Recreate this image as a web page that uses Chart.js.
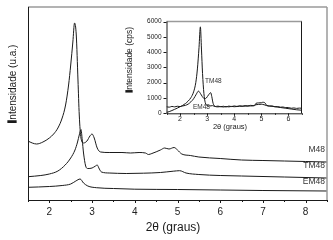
<!DOCTYPE html>
<html>
<head>
<meta charset="utf-8">
<script src="https://cdn.jsdelivr.net/npm/chart.js@4/dist/chart.umd.min.js"></script>
<style>
  html, body { margin: 0; padding: 0; background: #fff; }
  #wrap { position: relative; width: 333px; height: 240px; }
  #mainChart { position: absolute; left: 0; top: 0; }
  #insetChart { position: absolute; left: 120px; top: 12px; }
</style>
</head>
<body>
<div id="wrap">
  <canvas id="mainChart" width="333" height="240"></canvas>
  <canvas id="insetChart" width="190" height="124"></canvas>
</div>
<script>
"use strict";

// main plot: [2θ, intensity (a.u., offset stacked)]
const m48 = [[1.5,59],[1.6,57],[1.7,56],[1.85,58],[2.0,62],[2.1,66],[2.2,72],[2.3,82],[2.38,95],
  [2.45,115],[2.5,135],[2.55,158],[2.59,177],[2.63,165],[2.67,120],[2.7,85],[2.74,62],[2.8,57],
  [2.88,59],[2.95,64],[3.0,66],[3.05,62],[3.12,52],[3.2,48],[3.4,47.5],[3.7,47.5],[3.9,47],
  [4.1,47.5],[4.25,47],[4.32,45.5],[4.4,46.5],[4.6,50],[4.7,52],[4.8,51],[4.92,52.5],[5.0,50],
  [5.1,46],[5.3,44.5],[5.5,43],[6.0,41.5],[6.5,40],[7.0,39.5],[7.5,39],[8.0,38.5],[8.5,38]];
const tm48 = [[1.5,23.3],[1.8,24.5],[2.0,26],[2.2,29],[2.37,35],[2.5,42],[2.6,50],[2.66,58],
  [2.7,65],[2.74,70.5],[2.77,60],[2.8,47],[2.85,34],[2.9,31.5],[3.0,32],[3.08,34],[3.12,35],
  [3.17,31],[3.22,28],[3.4,27],[3.8,26.5],[4.2,26.8],[4.6,27.5],[4.9,28.8],[5.05,29.3],
  [5.2,27],[5.5,25.5],[6.0,24.5],[6.5,24],[7.5,23],[8.5,22]];
const em48 = [[1.5,12.7],[2.0,13.5],[2.3,14.5],[2.5,16],[2.62,19],[2.72,21],[2.8,17],[2.9,14],
  [3.1,12.3],[3.5,11.5],[4.0,10.8],[5.0,10.5],[6.0,10],[7.0,9.5],[8.5,9]];
const mainXTicks = [2, 3, 4, 5, 6, 7, 8];
const mainLabels = ["M48", "TM48", "EM48"];

// inset: [2θ, cps]
const insetTM48 = [[1.5,60],[1.6,110],[1.7,180],[1.8,260],[1.9,340],[2.0,430],[2.1,520],[2.2,640],
  [2.3,800],[2.4,1020],[2.5,1400],[2.58,2000],[2.64,2900],[2.7,4300],[2.75,5650],[2.79,4200],
  [2.83,2600],[2.88,1300],[2.93,700],[3.0,520],[3.1,480],[3.2,500],[3.3,440],[3.4,470],[3.5,430],
  [3.6,460],[3.7,420],[3.8,470],[3.9,440],[4.0,480],[4.1,450],[4.2,490],[4.3,460],[4.4,500],
  [4.5,480],[4.6,520],[4.7,500],[4.8,560],[4.9,580],[5.0,590],[5.1,560],[5.2,500],[5.3,470],
  [5.4,480],[5.5,430],[5.6,440],[5.7,400],[5.8,410],[5.9,370],[6.0,380],[6.1,330],[6.2,350],
  [6.3,320],[6.4,340],[6.5,330]];
const insetEM48 = [[1.5,430],[1.6,400],[1.7,450],[1.8,420],[1.9,460],[2.0,440],[2.1,480],[2.2,520],
  [2.3,600],[2.4,750],[2.5,950],[2.6,1250],[2.68,1450],[2.75,1300],[2.82,1100],[2.9,950],
  [2.97,1000],[3.05,1200],[3.13,1350],[3.17,1100],[3.22,650],[3.3,450],[3.4,420],[3.5,440],
  [3.6,410],[3.7,440],[3.8,420],[3.9,450],[4.0,430],[4.2,460],[4.4,470],[4.6,480],[4.75,500],
  [4.8,650],[4.9,680],[5.0,690],[5.05,720],[5.12,700],[5.2,520],[5.3,480],[5.5,430],[5.7,380],
  [5.9,330],[6.1,280],[6.3,230],[6.5,200]];
const insetXTicks = [2, 3, 4, 5, 6];
const insetYTicks = [0, 1000, 2000, 3000, 4000, 5000, 6000];

const FONT = "'Liberation Sans', Arial, sans-serif";
const INK = "#1a1a1a";

const toXY = arr => arr.map(p => ({ x: p[0], y: p[1] }));
const lineSet = (label, arr) => ({
    label, data: toXY(arr), borderColor: INK, borderWidth: 1,
    pointRadius: 0, cubicInterpolationMode: 'monotone', fill: false
});

// rotated title with the heavy "I" like the original
function drawYTitle(ctx, text, cx, cy, size) {
    ctx.save();
    ctx.translate(cx, cy);
    ctx.rotate(-Math.PI / 2);
    ctx.font = `${size}px ${FONT}`;
    const w = ctx.measureText(text).width;
    ctx.textBaseline = 'middle';
    ctx.textAlign = 'left';
    ctx.fillStyle = INK;
    ctx.font = `bold ${size}px ${FONT}`;
    ctx.strokeStyle = INK;
    ctx.lineWidth = 1.3;
    ctx.fillText('I', -w / 2, 0);
    ctx.strokeText('I', -w / 2, 0);
    ctx.font = `${size}px ${FONT}`;
    ctx.fillText(text.slice(1), -w / 2 + ctx.measureText('I').width + 0.5, 0);
    ctx.restore();
}

function drawFrame(chart, opts) {
    const { ctx, chartArea: a, scales: { x, y } } = chart;
    ctx.save();
    // gray top (and maybe right) border
    ctx.strokeStyle = '#9a9a9a';
    ctx.lineWidth = 1.5;
    ctx.beginPath();
    ctx.moveTo(a.left, a.top); ctx.lineTo(a.right, a.top);
    if (opts.grayRight) { ctx.moveTo(a.right, a.top); ctx.lineTo(a.right, a.bottom); }
    ctx.stroke();
    ctx.strokeStyle = INK;
    ctx.lineWidth = 1;
    ctx.beginPath();
    ctx.moveTo(a.left + 0.5, a.top); ctx.lineTo(a.left + 0.5, a.bottom + 0.5);
    ctx.lineTo(a.right, a.bottom + 0.5);
    if (!opts.grayRight) { ctx.moveTo(a.right - 0.5, a.top); ctx.lineTo(a.right - 0.5, a.bottom); }
    // x ticks, major on integers, minor on halves
    for (let v = x.min; v <= x.max + 1e-9; v += 0.5) {
        const px = Math.round(x.getPixelForValue(v)) + 0.5;
        const len = Number.isInteger(v) ? opts.major : opts.minor;
        ctx.moveTo(px, a.bottom); ctx.lineTo(px, a.bottom + len);
    }
    if (opts.yTicks) {
        opts.yTicks.forEach(v => {
            const py = Math.round(y.getPixelForValue(v)) + 0.5;
            ctx.moveTo(a.left, py); ctx.lineTo(a.left - 3, py);
        });
    }
    ctx.stroke();
    ctx.restore();
}

const mainPlugin = {
    id: 'mainDecor',
    afterDraw(chart) {
        const ctx = chart.ctx;
        drawFrame(chart, { grayRight: true, major: 3, minor: 2 });
        drawYTitle(ctx, 'Intensidade (u.a.)', 13, 84, 10);
        ctx.save();
        ctx.fillStyle = INK;
        ctx.textAlign = 'center';
        ctx.textBaseline = 'middle';
        ctx.font = `12px ${FONT}`;
        ctx.fillText('2θ (graus)', 173, 228);
        ctx.font = `8.5px ${FONT}`;
        ctx.textAlign = 'right';
        ctx.fillStyle = '#333';
        const ys = [150, 166, 182];
        mainLabels.forEach((t, i) => ctx.fillText(t, 325, ys[i]));
        ctx.restore();
    }
};

new Chart(document.getElementById('mainChart'), {
    type: 'line',
    data: { datasets: [lineSet('M48', m48), lineSet('TM48', tm48), lineSet('EM48', em48)] },
    options: {
        responsive: false, animation: false,
        layout: { padding: { left: 28, right: 6, top: 7, bottom: 0 } },
        plugins: { legend: { display: false }, tooltip: { enabled: false } },
        scales: {
            x: {
                type: 'linear', min: 1.5, max: 8.5,
                afterBuildTicks: s => { s.ticks = mainXTicks.map(v => ({ value: v })); },
                afterFit: s => { s.height = 40; },
                grid: { display: false, drawTicks: false },
                border: { display: false },
                ticks: { padding: 6, color: '#222', font: { family: FONT, size: 10 }, maxRotation: 0 }
            },
            y: { display: false, min: 0, max: 193 }
        }
    },
    plugins: [mainPlugin]
});

const insetPlugin = {
    id: 'insetDecor',
    afterDraw(chart) {
        const ctx = chart.ctx;
        drawFrame(chart, { grayRight: false, major: 2.5, minor: 1.5, yTicks: insetYTicks });
        drawYTitle(ctx, 'Intensidade (cps)', 10, 48, 8.5);
        ctx.save();
        ctx.fillStyle = INK;
        ctx.textAlign = 'center';
        ctx.textBaseline = 'middle';
        ctx.font = `7.5px ${FONT}`;
        ctx.fillText('2θ (graus)', 110, 114.5);
        ctx.font = `6.5px ${FONT}`;
        ctx.textAlign = 'left';
        ctx.fillStyle = '#333';
        ctx.fillText('TM48', 85, 69);
        ctx.fillText('EM48', 73, 95);
        ctx.restore();
    }
};

new Chart(document.getElementById('insetChart'), {
    type: 'line',
    data: { datasets: [lineSet('TM48', insetTM48), lineSet('EM48', insetEM48)] },
    options: {
        responsive: false, animation: false,
        layout: { padding: { left: 0, right: 8, top: 9.5, bottom: 0 } },
        plugins: { legend: { display: false }, tooltip: { enabled: false } },
        scales: {
            x: {
                type: 'linear', min: 1.5, max: 6.5,
                afterBuildTicks: s => { s.ticks = insetXTicks.map(v => ({ value: v })); },
                afterFit: s => { s.height = 22.7; },
                grid: { display: false, drawTicks: false },
                border: { display: false },
                ticks: { padding: 2, color: '#222', font: { family: FONT, size: 7 }, maxRotation: 0 }
            },
            y: {
                min: 0, max: 6000,
                afterBuildTicks: s => { s.ticks = insetYTicks.map(v => ({ value: v })); },
                afterFit: s => { s.width = 46.5; },
                grid: { display: false, drawTicks: false },
                border: { display: false },
                ticks: { padding: 5, color: '#222', font: { family: FONT, size: 6.5 },
                         callback: v => String(v) }
            }
        }
    },
    plugins: [insetPlugin]
});
</script>
</body>
</html>
